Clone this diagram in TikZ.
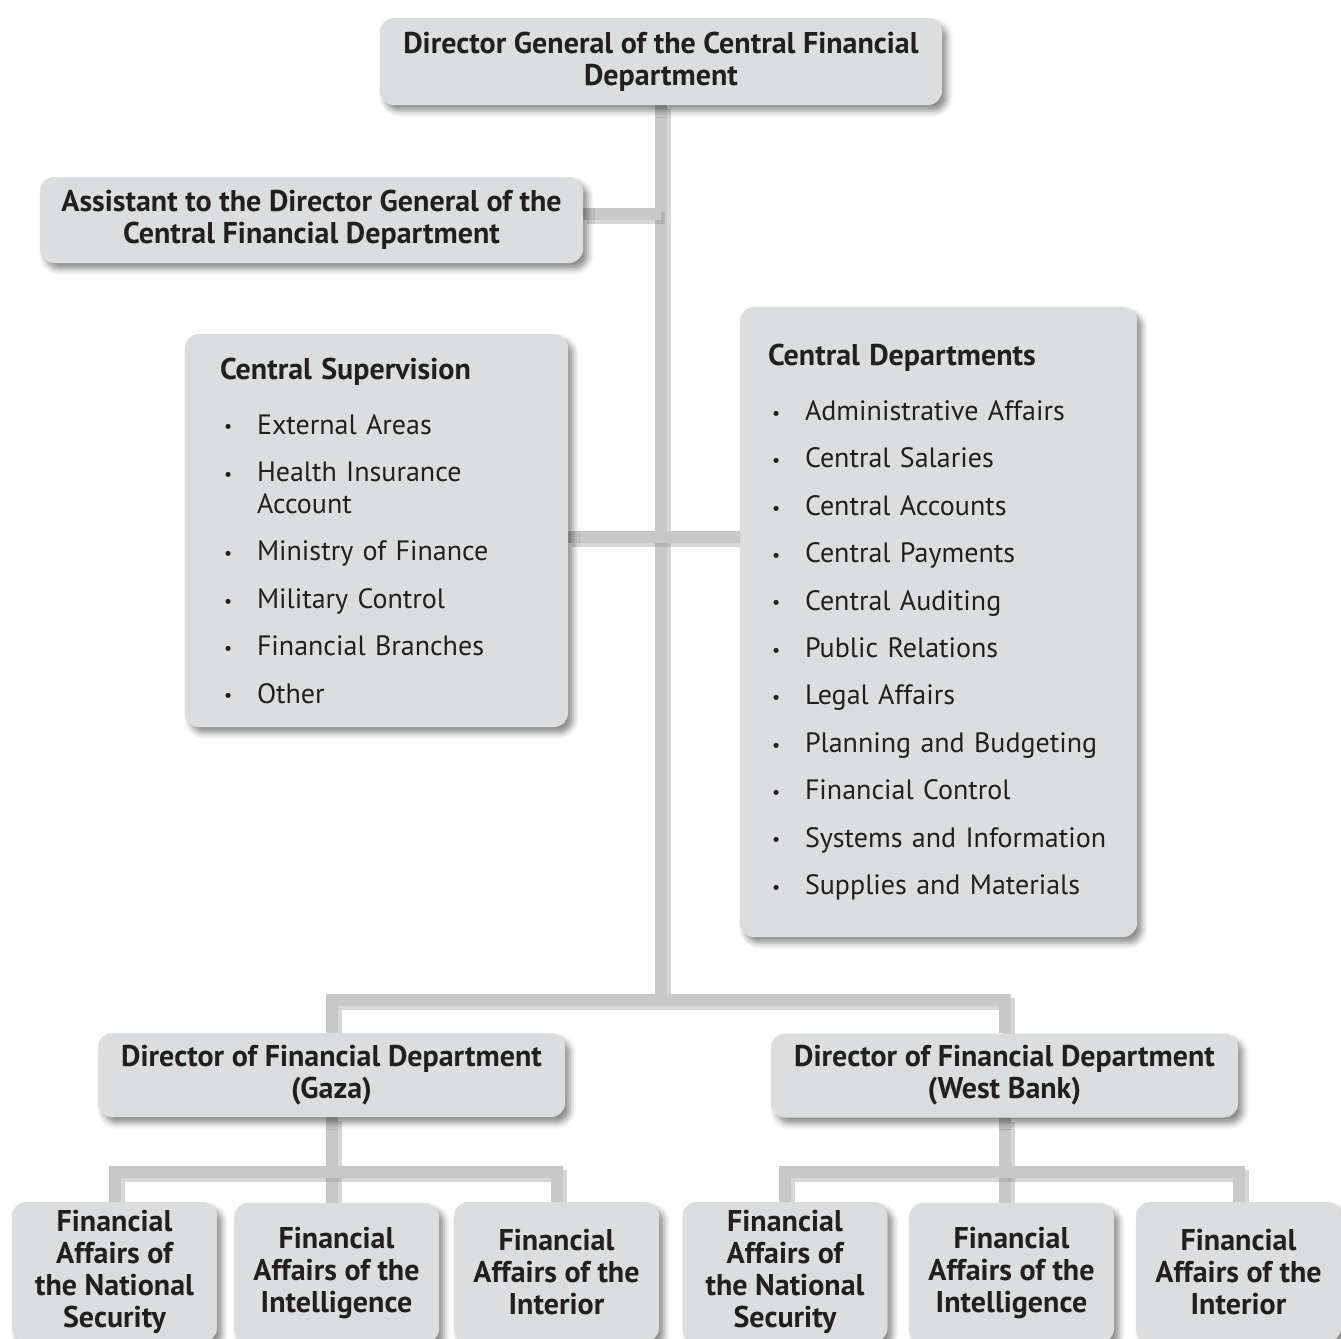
\documentclass[tikz,border=0pt]{standalone}
\usepackage{fontspec}
\setmainfont{PT Sans}
\usepackage{tikz}
\usetikzlibrary{positioning, calc, shadows.blur, backgrounds}
\definecolor{boxgray}{HTML}{DCDDDE}
\definecolor{linkgray}{HTML}{C8C8C8}
\definecolor{inkdark}{HTML}{231F20}

\newcommand{\bul}{\hspace*{2pt}\makebox[16.5pt][l]{\raisebox{0.6pt}{\fontsize{9}{9}\selectfont\textbullet}}}

\begin{document}
\begin{tikzpicture}[x=0.5pt, y=-0.5pt,
    box/.style={fill=boxgray, rounded corners=7pt, align=center,
                text=inkdark, font=\fontsize{15}{16}\selectfont\bfseries,
                blur shadow={shadow xshift=2.5pt, shadow yshift=-3pt,
                             shadow blur radius=3pt, shadow opacity=45}},
    listbox/.style={box, align=left, font=\fontsize{14}{16}\selectfont},
    finbox/.style={box, minimum width=102.5pt, minimum height=70pt},
    link/.style={draw=linkgray, line width=6pt,
                 preaction={draw=black!45, line width=6pt, opacity=0.35,
                            transform canvas={xshift=2pt, yshift=-2pt}}}
  ]
    \useasboundingbox (0,0) rectangle (1341,1339);

    % top of the chart
    \node[box, minimum width=281pt, minimum height=43.5pt] (dg) at (661,61.5)
      {Director General of the Central Financial\\Department};
    \node[box, minimum width=271.5pt, minimum height=43pt] (asst) at (311.5,220)
      {Assistant to the Director General of the\\Central Financial Department};

    % the two list boxes
    \node[listbox, text width=156.5pt, inner xsep=17.5pt, minimum height=196.5pt]
      (sup) at (376.5,530.5) {
      {\fontsize{15}{16}\selectfont\bfseries Central Supervision}\\[11.5pt]
      \bul External Areas\\[7.7pt]
      \bul Health Insurance\\
      \hspace*{18.5pt}Account\\[7.7pt]
      \bul Ministry of Finance\\[7.7pt]
      \bul Military Control\\[7.7pt]
      \bul Financial Branches\\[7.7pt]
      \bul Other};
    \node[listbox, text width=170.5pt, inner xsep=14pt, minimum height=315pt]
      (dep) at (938.5,622) {
      {\fontsize{15}{16}\selectfont\bfseries Central Departments}\\[11.5pt]
      \bul Administrative Affairs\\[7.7pt]
      \bul Central Salaries\\[7.7pt]
      \bul Central Accounts\\[7.7pt]
      \bul Central Payments\\[7.7pt]
      \bul Central Auditing\\[7.7pt]
      \bul Public Relations\\[7.7pt]
      \bul Legal Affairs\\[7.7pt]
      \bul Planning and Budgeting\\[7.7pt]
      \bul Financial Control\\[7.7pt]
      \bul Systems and Information\\[7.7pt]
      \bul Supplies and Materials};

    % regional directors
    \node[box, minimum width=233.5pt, minimum height=42pt] (gaza) at (331.5,1075)
      {Director of Financial Department\\(Gaza)};
    \node[box, minimum width=233.5pt, minimum height=42pt] (wb) at (1004.5,1075.5)
      {Director of Financial Department\\(West Bank)};

    % bottom row
    \node[finbox] (gns)  at (114.5,1272)  {Financial\\Affairs of\\the National\\Security};
    \node[finbox] (gint) at (336.5,1273)  {Financial\\Affairs of the\\Intelligence};
    \node[finbox] (gin)  at (556.5,1272)  {Financial\\Affairs of the\\Interior};
    \node[finbox] (wns)  at (785,1272)    {Financial\\Affairs of\\the National\\Security};
    \node[finbox] (wint) at (1011.5,1273) {Financial\\Affairs of the\\Intelligence};
    \node[finbox] (win)  at (1238.5,1272) {Financial\\Affairs of the\\Interior};

    \coordinate (split) at (661,1000);
    \coordinate (gbar) at (331.5,1172);
    \coordinate (wbar) at (1004.5,1172);

    \begin{scope}[on background layer]
      \draw[link] (dg.south) -- (split);
      \draw[link] ([yshift=3pt]asst.east) -- ([yshift=3pt]asst.east -| dg.south);
      \draw[link] ([yshift=-3.25pt]sup.east) -- ([yshift=-3.25pt]sup.east -| dep.west);
      \draw[link] (gaza.north) |- (split) -| (wb.north);
      \draw[link] (gaza.south) -- (gaza.south |- gint.north);
      \draw[link] (gns.north) |- (gbar) -| (gin.north);
      \draw[link] (wb.south) -- (wb.south |- wint.north);
      \draw[link] (wns.north) |- (wbar) -| (win.north);
    \end{scope}
  \end{tikzpicture}
\end{document}
